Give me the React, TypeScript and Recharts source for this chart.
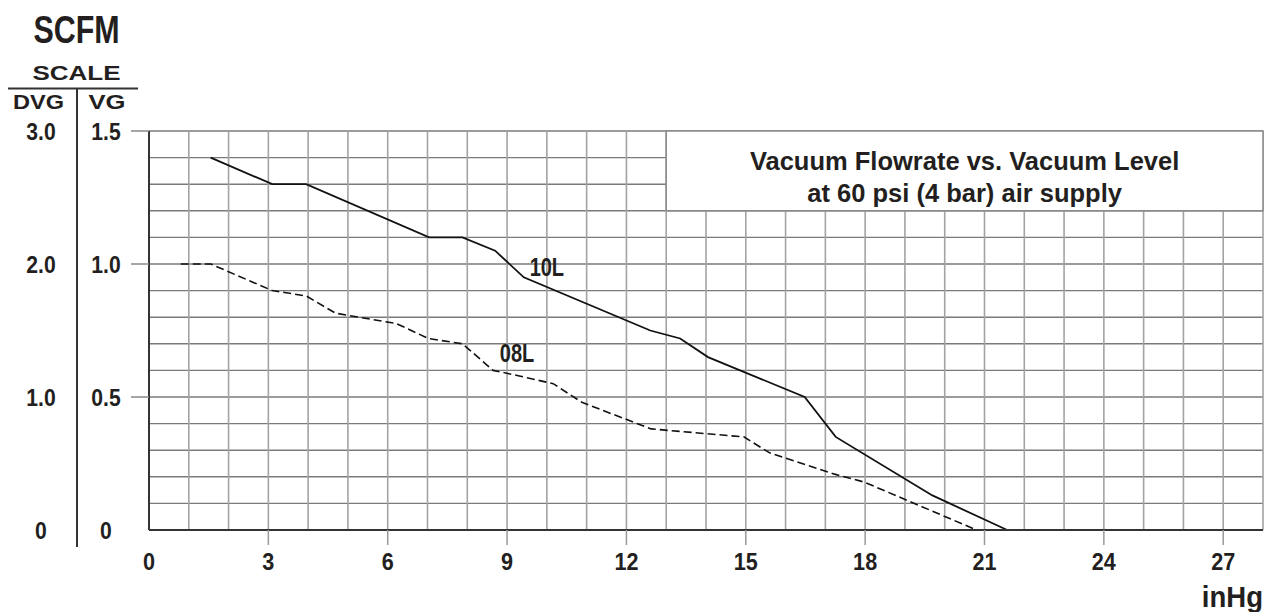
import React from "react";
import {
  LineChart,
  Line,
  XAxis,
  YAxis,
  CartesianGrid,
  ReferenceArea,
  ReferenceDot,
} from "recharts";

// vacuum level (inHg) and flow (SCFM, VG scale)
const L10_INHG = [1.55, 3.1, 3.95, 7.04, 7.88, 8.7, 9.42, 12.6, 13.35, 14.05, 16.48, 17.26, 19.69, 21.57];
const L10_SCFM = [1.4, 1.3, 1.3, 1.1, 1.1, 1.05, 0.95, 0.75, 0.72, 0.65, 0.5, 0.35, 0.13, 0];

const L08_INHG = [0.8, 1.55, 3.1, 3.95, 4.69, 6.22, 7.02, 7.88, 8.65, 9.28, 10.16, 10.88, 12.62, 14.95, 15.6, 17.23, 17.98, 20.8];
const L08_SCFM = [1.0, 1.0, 0.9, 0.88, 0.815, 0.776, 0.72, 0.7, 0.6, 0.58, 0.55, 0.48, 0.38, 0.35, 0.29, 0.21, 0.18, 0];

const X_GRID = [0, 1, 2, 3, 4, 5, 6, 7, 8, 9, 10, 11, 12, 13, 14, 15, 16, 17, 18, 19, 20, 21, 22, 23, 24, 25, 26, 27];
const X_LABELS = [0, 3, 6, 9, 12, 15, 18, 21, 24, 27];
const VG_GRID = [0, 0.1, 0.2, 0.3, 0.4, 0.5, 0.6, 0.7, 0.8, 0.9, 1.0, 1.1, 1.2, 1.3, 1.4, 1.5];
const VG_LABELS = ["0", "0.5", "1.0", "1.5"];
const DVG_LABELS = ["0", "1.0", "2.0", "3.0"];

const TITLE = ["Vacuum Flowrate vs. Vacuum Level", "at 60 psi (4 bar) air supply"];

const FONT = "'Liberation Sans', Arial, Helvetica, sans-serif";
const INK = "#231f20";

const toPoints = (xs: number[], ys: number[]) => xs.map((x, i) => ({ x, y: ys[i] }));
const line10 = toPoints(L10_INHG, L10_SCFM);
const line08 = toPoints(L08_INHG, L08_SCFM);

const near = (a: number, b: number) => Math.abs(a - b) < 1e-6;

// helvetica condensed / extended look, done with a horizontal scale
function Squeezed({ x, y, sx, size, anchor = "middle", children }: any) {
  return (
    <text
      transform={`translate(${x},${y}) scale(${sx},1)`}
      textAnchor={anchor}
      fontFamily={FONT}
      fontWeight="bold"
      fontSize={size}
      fill={INK}
    >
      {children}
    </text>
  );
}

function XTick(props: any) {
  const { x, y, payload } = props;
  const v = payload.value;
  if (!X_LABELS.some((l) => near(l, v))) return <g />;
  return (
    <g>
      {v > 0 && <line x1={x} x2={x} y1={y} y2={y + 15} stroke="#999" strokeWidth={1.5} />}
      <Squeezed x={x} y={y + 40} sx={0.9} size={24}>{v}</Squeezed>
    </g>
  );
}

// VG labels next to the axis, DVG (twice the VG value) further left
function VgTick(props: any) {
  const { x, y, payload } = props;
  const idx = VG_LABELS.findIndex((l) => near(Number(l), payload.value));
  if (idx < 0) return <g />;
  return (
    <g>
      {idx > 0 && <line x1={x - 18} x2={x} y1={y} y2={y} stroke="#888" strokeWidth={1.5} />}
      <Squeezed x={x - 43} y={y + 9} sx={0.92} size={23}>{VG_LABELS[idx]}</Squeezed>
      <Squeezed x={x - 108} y={y + 9} sx={0.92} size={23}>{DVG_LABELS[idx]}</Squeezed>
    </g>
  );
}

function TitleLabel(props: any) {
  const { x, y, width } = props.viewBox;
  const cx = x + width / 2;
  return (
    <text textAnchor="middle" fontFamily={FONT} fontWeight="bold" fontSize={25.5} fill={INK}>
      <tspan x={cx} y={y + 39}>{TITLE[0]}</tspan>
      <tspan x={cx} y={y + 71}>{TITLE[1]}</tspan>
    </text>
  );
}

function CurveName(props: any) {
  const { viewBox, text } = props;
  const cx = viewBox.x + (viewBox.width || 0) / 2;
  const cy = viewBox.y + (viewBox.height || 0) / 2;
  return <Squeezed x={cx} y={cy + 9} sx={0.8} size={25}>{text}</Squeezed>;
}

export default function App() {
  return (
    <div style={{ position: "absolute", left: 0, top: 0, width: 1268, height: 612, background: "#fff" }}>
      <LineChart width={1268} height={612} margin={{ top: 131, right: 5, bottom: 20, left: 77 }}>
        <CartesianGrid vertical={false} stroke="#7a7a7a" strokeWidth={1.4} />
        <CartesianGrid horizontal={false} stroke="#a3a3a3" strokeWidth={1.6} />
        <XAxis
          type="number"
          dataKey="x"
          domain={[0, 28]}
          ticks={X_GRID}
          interval={0}
          height={62}
          tickSize={0}
          tickMargin={0}
          tickLine={false}
          axisLine={{ stroke: "#333", strokeWidth: 2 }}
          tick={<XTick />}
        />
        <YAxis
          type="number"
          domain={[0, 1.5]}
          ticks={VG_GRID}
          interval={0}
          width={72}
          tickSize={0}
          tickMargin={0}
          tickLine={false}
          axisLine={{ stroke: "#333", strokeWidth: 2 }}
          tick={<VgTick />}
        />
        <ReferenceArea
          x1={13}
          x2={28}
          y1={1.2}
          y2={1.5}
          fill="#fff"
          fillOpacity={1}
          stroke="#8a8a8a"
          strokeWidth={1.5}
          label={(p: any) => <TitleLabel {...p} />}
        />
        <Line
          data={line10}
          dataKey="y"
          type="linear"
          stroke="#111"
          strokeWidth={1.8}
          dot={false}
          isAnimationActive={false}
        />
        <Line
          data={line08}
          dataKey="y"
          type="linear"
          stroke="#111"
          strokeWidth={1.6}
          strokeDasharray="8 4"
          dot={false}
          isAnimationActive={false}
        />
        <ReferenceDot
          x={10}
          y={0.99}
          r={0}
          fill="none"
          stroke="none"
          label={(p: any) => <CurveName {...p} text="10L" />}
        />
        <ReferenceDot
          x={9.25}
          y={0.666}
          r={0}
          fill="none"
          stroke="none"
          label={(p: any) => <CurveName {...p} text="08L" />}
        />
      </LineChart>
      <svg
        width={1268}
        height={612}
        style={{ position: "absolute", left: 0, top: 0, pointerEvents: "none" }}
      >
        <Squeezed x={76.5} y={43} sx={0.78} size={39}>SCFM</Squeezed>
        <Squeezed x={76.5} y={80} sx={1.24} size={21}>SCALE</Squeezed>
        <line x1={8} x2={138} y1={88.5} y2={88.5} stroke="#333" strokeWidth={2} />
        <Squeezed x={38.5} y={109} sx={1.15} size={20.5}>DVG</Squeezed>
        <Squeezed x={107} y={109} sx={1.25} size={20.5}>VG</Squeezed>
        <line x1={77} x2={77} y1={88.5} y2={547} stroke="#333" strokeWidth={2} />
        <Squeezed x={1263} y={607} sx={0.95} size={29} anchor="end">inHg</Squeezed>
      </svg>
    </div>
  );
}
